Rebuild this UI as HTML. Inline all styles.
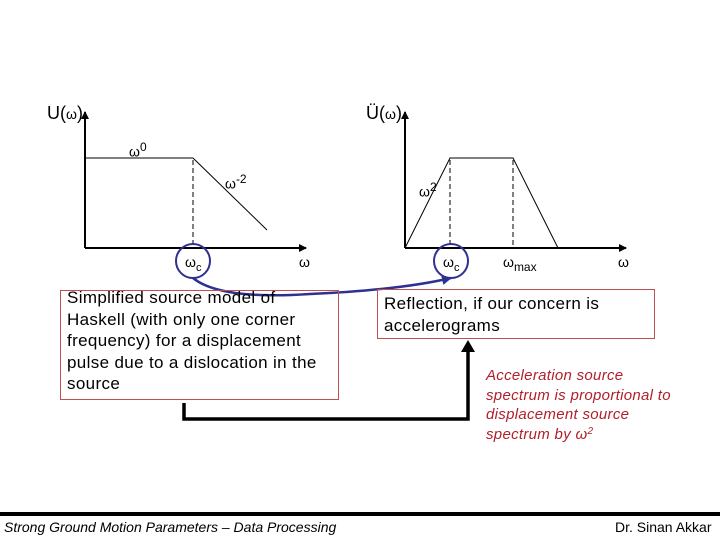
<!DOCTYPE html>
<html><head><meta charset="utf-8"><style>
html,body{margin:0;padding:0;background:#fff;}
body{width:720px;height:540px;position:relative;overflow:hidden;font-family:"Liberation Sans",sans-serif;}
.t{position:absolute;white-space:nowrap;color:#000;}
.box{position:absolute;border:1px solid #c0504d;box-sizing:border-box;}
.bt{position:absolute;white-space:nowrap;font-size:17px;letter-spacing:0.35px;line-height:21.5px;}
</style></head><body>
<svg width="720" height="540" style="position:absolute;left:0;top:0">
<defs>
<marker id="ah" markerWidth="8" markerHeight="8" refX="7" refY="4" orient="auto" markerUnits="userSpaceOnUse"><path d="M0,0L8,4L0,8z" fill="#000"/></marker>
<marker id="ab" markerWidth="10" markerHeight="10" refX="9" refY="5" orient="auto" markerUnits="userSpaceOnUse"><path d="M0,0L10,5L0,10z" fill="#2e3192"/></marker>
</defs>
<line x1="85" y1="248" x2="85" y2="112" stroke="#000" stroke-width="2" marker-end="url(#ah)"/>
<line x1="85" y1="248" x2="306" y2="248" stroke="#000" stroke-width="2" marker-end="url(#ah)"/>
<line x1="85" y1="158" x2="193" y2="158" stroke="#000" stroke-width="1"/>
<line x1="193" y1="158" x2="267" y2="230" stroke="#000" stroke-width="1"/>
<line x1="193" y1="160" x2="193" y2="248" stroke="#000" stroke-width="1" stroke-dasharray="5,3"/>
<circle cx="193" cy="261" r="17" fill="none" stroke="#2e3192" stroke-width="2"/>
<line x1="405" y1="248" x2="405" y2="112" stroke="#000" stroke-width="2" marker-end="url(#ah)"/>
<line x1="405" y1="248" x2="626" y2="248" stroke="#000" stroke-width="2" marker-end="url(#ah)"/>
<polyline points="405,248 450,158 513,158 558,248" fill="none" stroke="#000" stroke-width="1"/>
<line x1="450" y1="160" x2="450" y2="248" stroke="#000" stroke-width="1" stroke-dasharray="5,3"/>
<line x1="513" y1="160" x2="513" y2="248" stroke="#000" stroke-width="1" stroke-dasharray="5,3"/>
<circle cx="451" cy="261" r="17" fill="none" stroke="#2e3192" stroke-width="2"/>
<path d="M193,278 Q220,300 310,294 Q400,290 451,278" fill="none" stroke="#2e3192" stroke-width="2.5" marker-end="url(#ab)"/>
<polyline points="184,403 184,419 468,419 468,350" fill="none" stroke="#000" stroke-width="3.5"/>
<path d="M461,352L468,340L475,352z" fill="#000"/>
<rect x="0" y="512" width="720" height="4" fill="#000"/>
</svg>
<div class="t" style="left:47px;top:103px;font-size:18px">U(<span style="font-size:14px">ω</span>)</div>
<div class="t" style="left:366px;top:103px;font-size:18px">Ü(<span style="font-size:14px">ω</span>)</div>
<div class="t" style="left:129px;top:140px;font-size:14px">ω<sup style="font-size:12px">0</sup></div>
<div class="t" style="left:225px;top:172px;font-size:14px">ω<sup style="font-size:12px">-2</sup></div>
<div class="t" style="left:185px;top:254px;font-size:14px">ω<sub style="font-size:11px">c</sub></div>
<div class="t" style="left:299px;top:254px;font-size:14px">ω</div>
<div class="t" style="left:419px;top:180px;font-size:14px">ω<sup style="font-size:12px">2</sup></div>
<div class="t" style="left:443px;top:254px;font-size:14px">ω<sub style="font-size:11px">c</sub></div>
<div class="t" style="left:503px;top:254px;font-size:14px">ω<sub style="font-size:12px">max</sub></div>
<div class="t" style="left:618px;top:254px;font-size:14px">ω</div>
<div class="box" style="left:60px;top:290px;width:279px;height:110px"></div>
<div class="bt" style="left:67px;top:287px">Simplified source model of<br>Haskell (with only one corner<br>frequency) for a displacement<br>pulse due to a dislocation in the<br>source</div>
<div class="box" style="left:377px;top:289px;width:278px;height:50px"></div>
<div class="bt" style="left:384px;top:293px">Reflection, if our concern is<br>accelerograms</div>
<div class="t" style="left:486px;top:366px;font-size:15px;letter-spacing:0.3px;line-height:19.5px;color:#b0202a;font-style:italic">Acceleration source<br>spectrum is proportional to<br>displacement source<br>spectrum by <i>ω</i><span style="font-size:10px;position:relative;top:-5px">2</span></div>
<div class="t" style="left:4px;top:519px;font-size:14px;font-style:italic">Strong Ground Motion Parameters – Data Processing</div>
<div class="t" style="left:615px;top:519px;font-size:14px">Dr. Sinan Akkar</div>
</body></html>
